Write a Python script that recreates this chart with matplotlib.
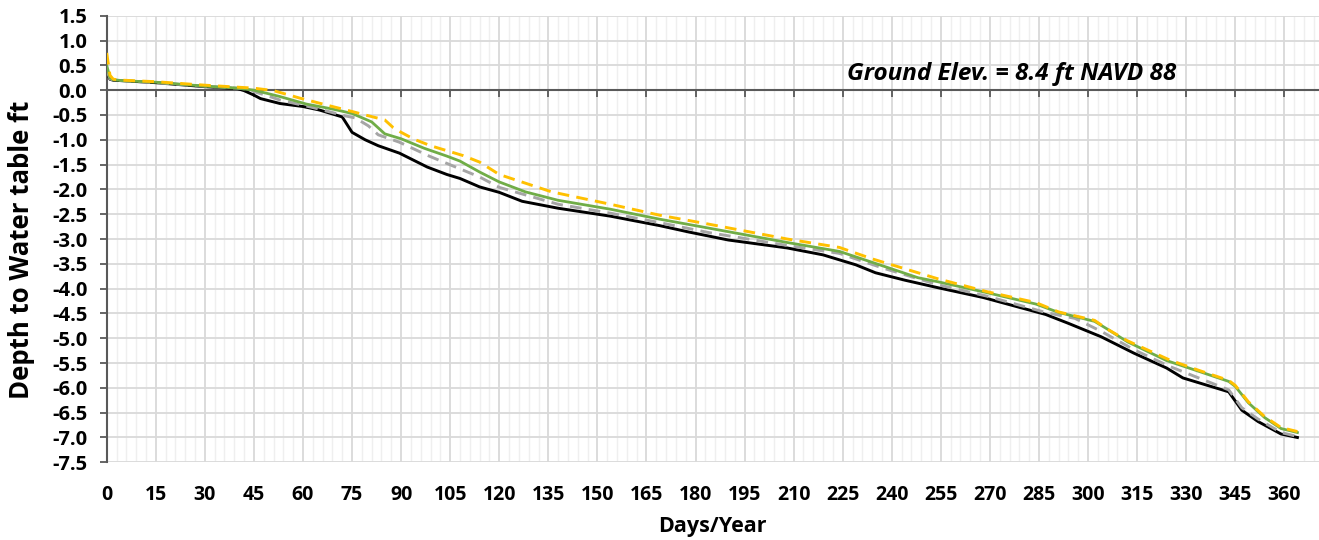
import matplotlib.pyplot as plt
from matplotlib.ticker import MultipleLocator, FixedLocator

plt.rcParams['font.family'] = ['Open Sans', 'DejaVu Sans']

# day / depth pairs
black_days = [0, 1, 2, 5, 15, 30, 40, 42, 45, 47, 53, 60, 65, 72, 75, 79, 83, 89.5, 98, 104, 108, 114, 120, 127, 138,
              154, 169, 178, 190, 208, 219, 229, 235, 244, 254, 268, 287, 294, 304, 314, 324, 329, 343, 347, 352, 359, 364]
black_vals = [0.35, 0.22, 0.2, 0.19, 0.15, 0.07, 0.03, -0.01, -0.1, -0.17, -0.27, -0.33, -0.4, -0.54, -0.85, -1.0, -1.12,
              -1.27, -1.55, -1.7, -1.78, -1.95, -2.06, -2.24, -2.38, -2.54, -2.73, -2.86, -3.02, -3.18, -3.32, -3.52,
              -3.68, -3.83, -3.98, -4.18, -4.52, -4.7, -4.97, -5.3, -5.6, -5.8, -6.08, -6.45, -6.68, -6.93, -7.0]

gray_days = [0, 1, 2, 5, 15, 30, 40, 43, 46, 49, 53, 63, 73, 76, 80, 83, 89.5, 98.6, 114, 120, 138, 154, 169, 184,
             208, 224, 237, 254, 269, 287, 296, 304, 314, 325, 343, 347, 352, 359, 364]
gray_vals = [0.4, 0.23, 0.2, 0.19, 0.15, 0.08, 0.04, 0.02, -0.05, -0.11, -0.2, -0.35, -0.52, -0.56, -0.72, -0.9, -1.05,
             -1.33, -1.75, -1.96, -2.3, -2.48, -2.67, -2.87, -3.13, -3.29, -3.58, -3.92, -4.15, -4.48, -4.6, -4.86,
             -5.23, -5.57, -6.04, -6.4, -6.63, -6.9, -6.98]

green_days = [0, 1, 2, 5, 15, 30, 40, 45, 53, 61, 69, 75, 81, 85, 90, 97, 104, 108, 114, 120, 128, 138, 154, 169, 184,
              208, 224, 234, 248, 254, 269, 284, 291, 302, 306, 312, 324, 334, 343, 345, 349, 354, 359, 364]
green_vals = [0.5, 0.25, 0.21, 0.19, 0.16, 0.08, 0.04, 0.0, -0.13, -0.28, -0.38, -0.47, -0.64, -0.88, -0.98, -1.17,
              -1.33, -1.43, -1.65, -1.85, -2.05, -2.22, -2.4, -2.6, -2.78, -3.07, -3.25, -3.47, -3.78, -3.86, -4.08,
              -4.31, -4.48, -4.66, -4.82, -5.07, -5.45, -5.67, -5.87, -5.97, -6.3, -6.6, -6.82, -6.9]

orange_days = [0, 1, 2, 5, 15, 30, 40, 45, 51, 59, 69, 75, 79, 85, 87.5, 90, 94, 99, 109, 114, 120, 136, 154, 169,
               184, 208, 224, 234, 254, 269, 284, 291, 302, 306, 312, 325, 334, 343, 345, 349, 354, 359, 364]
orange_vals = [0.75, 0.3, 0.22, 0.2, 0.17, 0.1, 0.06, 0.04, -0.01, -0.16, -0.33, -0.43, -0.5, -0.6, -0.75, -0.85,
               -0.99, -1.12, -1.32, -1.45, -1.7, -2.05, -2.3, -2.52, -2.7, -3.0, -3.17, -3.4, -3.8, -4.06, -4.28,
               -4.47, -4.64, -4.82, -5.05, -5.44, -5.65, -5.85, -5.95, -6.28, -6.58, -6.8, -6.88]

day_ticks = list(range(0, 361, 15))

fig = plt.figure(figsize=(13.19, 5.4), dpi=100)
ax = fig.add_axes([0.0809, 0.1439, 0.9191, 0.827])

ax.plot(black_days, black_vals, color='black', lw=2.1, zorder=3)
ax.plot(gray_days, gray_vals, color='#a5a5a5', lw=2.1, ls=(0, (4, 2.5)), zorder=4)
ax.plot(green_days, green_vals, color='#70ad47', lw=2.0, zorder=5)
ax.plot(orange_days, orange_vals, color='#ffc000', lw=2.1, ls=(0, (4, 2.5)), zorder=6)

ax.set_xlim(0, 370.6)
ax.set_ylim(-7.5, 1.5)
ax.xaxis.set_major_locator(FixedLocator(day_ticks))
ax.xaxis.set_minor_locator(MultipleLocator(3))
ax.yaxis.set_major_locator(MultipleLocator(0.5))
ax.grid(which='major', axis='x', color='#d9d9d9', lw=1.3)
ax.grid(which='minor', axis='x', color='#efefef', lw=1.0)
ax.grid(which='major', axis='y', color='#d9d9d9', lw=1.3)
ax.set_axisbelow(True)

for s in ['top', 'right']:
    ax.spines[s].set_visible(False)
ax.spines['bottom'].set_position(('data', 0))
for s in ['left', 'bottom']:
    ax.spines[s].set_color('#595959')
    ax.spines[s].set_linewidth(1.5)

ax.tick_params(axis='x', which='major', direction='out', length=5, width=1.3, color='#595959', labelbottom=False)
ax.tick_params(axis='x', which='minor', length=0)
ax.tick_params(axis='y', direction='out', length=5, width=1.3, color='#595959', pad=9, labelsize=14.5)
ax.set_yticklabels([f'{v:.1f}' for v in ax.get_yticks()], fontweight='bold')

sec = ax.secondary_xaxis(0)
sec.xaxis.set_major_locator(FixedLocator(day_ticks))
sec.spines['bottom'].set_visible(False)
sec.tick_params(length=0, pad=16, labelsize=14)
for lab in sec.get_xticklabels():
    lab.set_fontweight('bold')
sec.set_xlabel('Days/Year', fontsize=15.5, fontweight='bold', labelpad=8)

ax.set_ylabel('Depth to Water table ft', fontsize=18.5, fontweight='bold')
ax.yaxis.set_label_coords(-0.059, 0.475)

ax.text(276.5, 0.32, 'Ground Elev. = 8.4 ft NAVD 88', fontsize=17.5, fontweight='bold', style='italic',
        ha='center', va='center')

fig.savefig('out.png', dpi=100)
